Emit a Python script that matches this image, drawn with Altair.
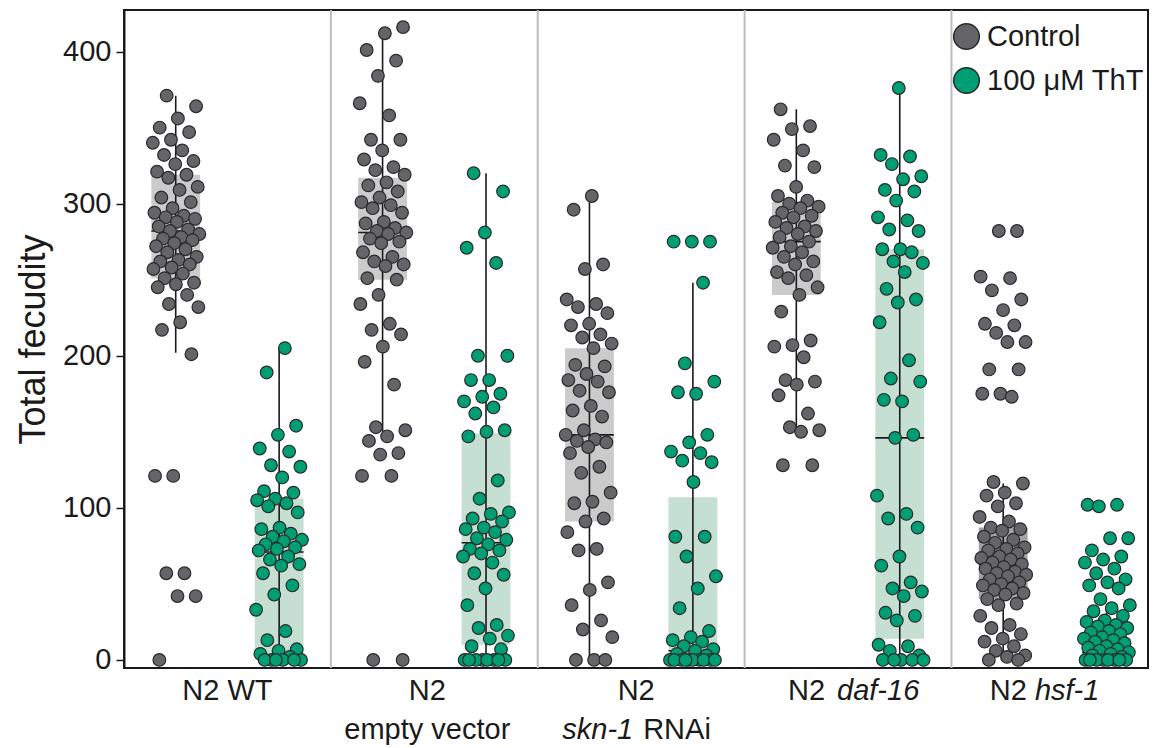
import altair as alt
import pandas as pd

# ---------------- data ----------------
groups = ["N2 WT", "N2 empty vector", "N2 skn-1 RNAi", "N2 daf-16", "N2 hsf-1"]
conditions = ["Control", "100 μM ThT"]

wt_control = [371, 364, 356, 350, 347, 342, 340, 335, 332, 328, 326, 321, 319, 317, 311, 309, 304, 301,
              297, 294, 292, 291, 290, 288, 285, 283, 282, 280, 278, 277, 276, 274, 272, 270, 268, 265,
              263, 262, 260, 258, 257, 254, 251, 248, 247, 245, 240, 234, 232, 222, 217, 201,
              121, 121, 57, 57, 42, 42, 0]
wt_tht = [205, 189, 154, 148, 139, 137, 128, 127, 120, 111, 110, 106, 105, 103, 101, 97, 87, 86, 83, 81,
          79, 78, 76, 74, 73, 72, 68, 66, 63, 62, 57, 49, 43, 33, 19, 13, 7, 6, 4, 2, 0, 0, 0, 0, 0, 0]
ev_control = [416, 412, 401, 394, 384, 366, 358, 342, 342, 335, 329, 324, 322, 319, 314, 312, 308, 304,
              301, 299, 297, 294, 288, 287, 284, 282, 281, 280, 277, 275, 274, 268, 265, 262, 260, 259,
              251, 250, 240, 234, 221, 217, 214, 206, 196, 181, 153, 151, 147, 144, 136, 135, 121, 121, 0, 0]
ev_tht = [320, 308, 281, 271, 261, 200, 200, 184, 184, 175, 173, 170, 166, 162, 151, 150, 147, 118, 106,
          97, 96, 93, 91, 87, 86, 84, 80, 79, 76, 73, 72, 70, 68, 64, 57, 56, 47, 36, 23, 21, 16, 14, 9, 7,
          0, 0, 0, 0, 0, 0, 0, 0]
skn_control = [305, 296, 260, 257, 237, 234, 232, 228, 221, 220, 214, 212, 208, 205, 194, 193, 188, 184,
               183, 177, 176, 167, 164, 160, 151, 148, 145, 144, 143, 140, 136, 127, 123, 110, 104, 103,
               93, 91, 84, 73, 72, 51, 46, 36, 26, 20, 15, 0, 0, 0]
skn_tht = [275, 275, 275, 248, 195, 183, 175, 176, 148, 143, 137, 136, 131, 130, 117, 81, 81, 68, 55, 47,
           34, 19, 15, 13, 12, 9, 7, 6, 4, 3, 0, 0, 0, 0, 0, 0, 0, 0, 0, 0]
daf_control = [362, 351, 349, 342, 335, 325, 324, 311, 305, 302, 300, 298, 297, 294, 292, 291, 288, 285,
               284, 282, 280, 278, 275, 272, 271, 268, 265, 262, 260, 255, 253, 251, 245, 240, 229, 210,
               207, 206, 199, 184, 183, 181, 174, 162, 153, 151, 150, 128, 128]
daf_tht = [376, 332, 331, 326, 318, 316, 309, 308, 302, 291, 289, 283, 282, 270, 270, 268, 262, 261, 255,
           244, 237, 235, 222, 197, 185, 183, 170, 171, 148, 146, 108, 96, 93, 87, 68, 62, 51, 47, 45, 42,
           31, 29, 26, 10, 9, 6, 3, 0, 0, 0, 0, 0]
hsf_control = [282, 282, 252, 251, 243, 237, 230, 221, 220, 215, 209, 209, 191, 191, 175, 175, 173, 117,
               116, 110, 108, 103, 101, 94, 91, 87, 86, 85, 81, 79, 77, 74, 73, 72, 70, 68, 67, 66, 64, 63,
               61, 60, 58, 57, 56, 55, 53, 51, 50, 49, 47, 46, 44, 43, 40, 37, 36, 29, 23, 21, 17, 14, 12,
               9, 6, 3, 2, 0, 0]
hsf_tht = [102, 102, 101, 80, 80, 72, 68, 66, 64, 60, 57, 53, 51, 49, 47, 40, 36, 34, 32, 29, 26, 25, 23,
           22, 21, 19, 18, 17, 15, 14, 13, 12, 11, 9, 8, 7, 6, 5, 4, 3, 2, 0, 0, 0, 0, 0, 0, 0, 0]

series = [wt_control, wt_tht, ev_control, ev_tht, skn_control, skn_tht,
          daf_control, daf_tht, hsf_control, hsf_tht]

# box statistics (order: group by group, control then ThT)
box_q1 = [251, 1, 250, 10, 91, 0, 240, 14, 40, 0]
box_median = [282, 71, 281, 77, 148, 6, 275, 146, 63, 5]
box_q3 = [319, 106, 317, 149, 205, 107, 301, 270, 87, 14]
whisker_low = [202, 0, 150, 0, 0, 0, 151, 0, 0, 0]
whisker_high = [371, 205, 416, 320, 305, 248, 362, 375, 116, 34]

# ---------------- styling ----------------
FONT = "Liberation Sans"
POINT_COLORS = ["#646469", "#009e73"]
BOX_COLORS = ["#cbcbcb", "#c5dfd2"]
BOX_COLOR_OVERRIDE = {8: "#a3a3a6"}   # the hsf-1 control box is drawn darker
COND_OFFSET = [0.25, 0.75]
HALF_BOX = 0.118
JIT = 0.115

rows = []
for s, vals in enumerate(series):
    g, c = divmod(s, 2)
    for k, v in enumerate(vals):
        j = ((k * 0.6180339887 + 0.31 * (s + 1)) % 1.0 - 0.5) * 2 * JIT
        rows.append({"pos": g + COND_OFFSET[c] + j, "value": v, "cond": conditions[c],
                     "group": groups[g]})
pts = pd.DataFrame(rows)

brows = []
for s in range(len(series)):
    g, c = divmod(s, 2)
    ctr = g + COND_OFFSET[c]
    brows.append({"center": ctr, "left": ctr - HALF_BOX, "right": ctr + HALF_BOX,
                  "q1": box_q1[s], "median": box_median[s], "q3": box_q3[s],
                  "lo": whisker_low[s], "hi": whisker_high[s],
                  "fill": BOX_COLOR_OVERRIDE.get(s, BOX_COLORS[c])})
boxes = pd.DataFrame(brows)

xscale = alt.Scale(domain=[0, 4.95], nice=False, zero=False)
yscale = alt.Scale(domain=[-5.3, 427.3], nice=False, zero=False)
yaxis = alt.Axis(values=[0, 100, 200, 300, 400], tickSize=8, tickWidth=1.5, tickColor="#1a1a1a",
                 domainColor="#1a1a1a", domainWidth=2, labelFontSize=29, labelFont=FONT,
                 labelColor="#1a1a1a", labelPadding=5, grid=False, title="Total fecudity",
                 titleFontSize=36, titleFont=FONT, titleFontWeight="normal", titleColor="#1a1a1a",
                 titlePadding=10)

sep = alt.Chart(pd.DataFrame({"x": [1, 2, 3, 4]})).mark_rule(color="#bdbdbd", strokeWidth=2).encode(
    x=alt.X("x:Q", scale=xscale, axis=None))

box_layer = alt.Chart(boxes).mark_rect().encode(
    x=alt.X("left:Q", scale=xscale, axis=None), x2="right:Q",
    y=alt.Y("q1:Q", scale=yscale, axis=yaxis), y2="q3:Q",
    fill=alt.Fill("fill:N", scale=None))

whisk = alt.Chart(boxes).mark_rule(color="#1a1a1a", strokeWidth=1.6).encode(
    x=alt.X("center:Q", scale=xscale, axis=None),
    y=alt.Y("lo:Q", scale=yscale), y2="hi:Q")

med = alt.Chart(boxes).mark_rule(color="#1a1a1a", strokeWidth=1.6).encode(
    x=alt.X("left:Q", scale=xscale, axis=None), x2="right:Q",
    y=alt.Y("median:Q", scale=yscale))

points = alt.Chart(pts).mark_circle(size=160, opacity=1, stroke="#2a2a2a", strokeWidth=1.2).encode(
    x=alt.X("pos:Q", scale=xscale, axis=None),
    y=alt.Y("value:Q", scale=yscale),
    color=alt.Color("cond:N", scale=alt.Scale(domain=conditions, range=POINT_COLORS),
                    legend=alt.Legend(title=None, orient="none", legendX=828, legendY=12,
                                      symbolType="circle", symbolSize=660,
                                      symbolStrokeColor="#2a2a2a", symbolStrokeWidth=1.5,
                                      symbolOpacity=1, labelFontSize=29, labelFont=FONT,
                                      labelColor="#1a1a1a", labelOffset=6, rowPadding=11,
                                      padding=0)))


def label(text, g, dx, y, align, italic=False):
    return alt.Chart(pd.DataFrame({"x": [g + 0.5], "t": [text]})).mark_text(
        dx=dx, align=align, baseline="alphabetic", fontSize=29, font=FONT,
        fontStyle="italic" if italic else "normal", color="#1a1a1a").encode(
        x=alt.X("x:Q", scale=xscale, axis=None), y=alt.value(y), text="t:N")


L1, L2 = 690, 729
labels = [
    label("N2 WT", 0, 0, L1, "center"),
    label("N2", 1, -7, L1, "center"),
    label("empty vector", 1, -7, L2, "center"),
    label("N2", 2, -5, L1, "center"),
    label("skn-1", 2, -8, L2, "right", True),
    label("RNAi", 2, 2, L2, "left"),
    label("N2", 3, -23, L1, "right"),
    label("daf-16", 3, -11, L1, "left", True),
    label("N2", 4, -28, L1, "right"),
    label("hsf-1", 4, -20, L1, "left", True),
]

chart = alt.layer(sep, box_layer, whisk, med, points, *labels).properties(
    width=1024, height=658, autosize="none",
    padding={"left": 124, "top": 10, "right": 13, "bottom": 80},
    background="white",
).configure_view(stroke="#1a1a1a", strokeWidth=2)

chart.save("out.html", embed_options={"renderer": "svg", "actions": False})
